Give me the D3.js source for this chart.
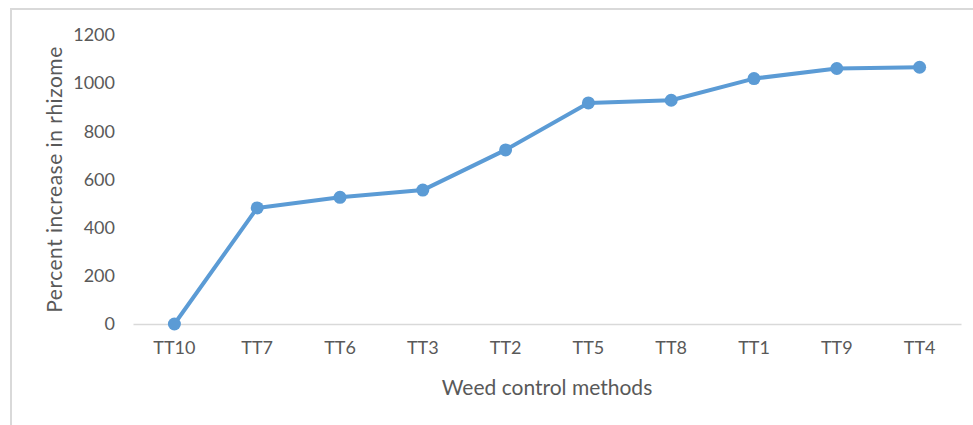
<!DOCTYPE html>
<html>
<head>
<meta charset="utf-8">
<script src="https://cdn.jsdelivr.net/npm/d3@7"></script>
<style>
  html, body { margin: 0; padding: 0; background: #fff; }
  svg { display: block; }
  text { font-family: Lato, "Open Sans", "Liberation Sans", sans-serif; fill: #595959; }
</style>
</head>
<body>
<svg id="chart" width="973" height="425"></svg>
<script>
// Weed control methods, ordered by increase
const methods = ["TT10", "TT7", "TT6", "TT3", "TT2", "TT5", "TT8", "TT1", "TT9", "TT4"];
// Percent increase in rhizome for each method
const rhizomeIncrease = [0, 482, 526, 556, 723, 918, 929, 1019, 1061, 1066];
// Y axis tick values
const yTicks = [0, 200, 400, 600, 800, 1000, 1200];

const svg = d3.select("#chart");
const W = 973, H = 425;
const plot = { left: 133, right: 961, top: 35, bottom: 324 };

// outer chart frame
svg.append("rect")
  .attr("x", 11).attr("y", 9)
  .attr("width", W + 20).attr("height", H + 20)
  .attr("fill", "#fff")
  .attr("stroke", "#d9d9d9")
  .attr("stroke-width", 2);

const x = d3.scaleBand()
  .domain(methods)
  .range([plot.left, plot.right]);

const y = d3.scaleLinear()
  .domain([0, 1200])
  .range([plot.bottom, plot.top]);

// y axis labels (no line, no ticks)
const yAxis = d3.axisLeft(y).tickValues(yTicks).tickFormat(d3.format("d"))
  .tickSize(0).tickPadding(0);
const gy = svg.append("g")
  .attr("transform", `translate(${plot.left - 18},0)`)
  .call(yAxis);
gy.select(".domain").remove();
gy.selectAll("text")
  .attr("font-size", 18)
  .attr("fill", "#595959")
  .style("font-family", "Lato, 'Open Sans', sans-serif");

// category axis along zero line
const xAxis = d3.axisBottom(x).tickSize(0).tickPadding(17);
const gx = svg.append("g")
  .attr("transform", `translate(0,${y(0)})`)
  .call(xAxis);
gx.select(".domain").attr("stroke", "#d9d9d9").attr("stroke-width", 1.3);
gx.selectAll("text")
  .attr("font-size", 18)
  .attr("fill", "#595959")
  .style("font-family", "Lato, 'Open Sans', sans-serif");

// series line
const line = d3.line()
  .x((d, i) => x(methods[i]) + x.bandwidth() / 2)
  .y(d => y(d));

svg.append("path")
  .datum(rhizomeIncrease)
  .attr("d", line)
  .attr("fill", "none")
  .attr("stroke", "#5b9bd5")
  .attr("stroke-width", 4)
  .attr("stroke-linejoin", "round");

svg.append("g")
  .selectAll("circle")
  .data(rhizomeIncrease)
  .join("circle")
  .attr("cx", (d, i) => x(methods[i]) + x.bandwidth() / 2)
  .attr("cy", d => y(d))
  .attr("r", 6.5)
  .attr("fill", "#5b9bd5");

// axis titles
svg.append("text")
  .attr("x", (plot.left + plot.right) / 2)
  .attr("y", 395)
  .attr("text-anchor", "middle")
  .attr("font-size", 21)
  .text("Weed control methods");

svg.append("text")
  .attr("transform", `translate(62,${(plot.top + plot.bottom) / 2}) rotate(-90)`)
  .attr("text-anchor", "middle")
  .attr("font-size", 21)
  .attr("letter-spacing", 0.5)
  .text("Percent increase in rhizome");
</script>
</body>
</html>
